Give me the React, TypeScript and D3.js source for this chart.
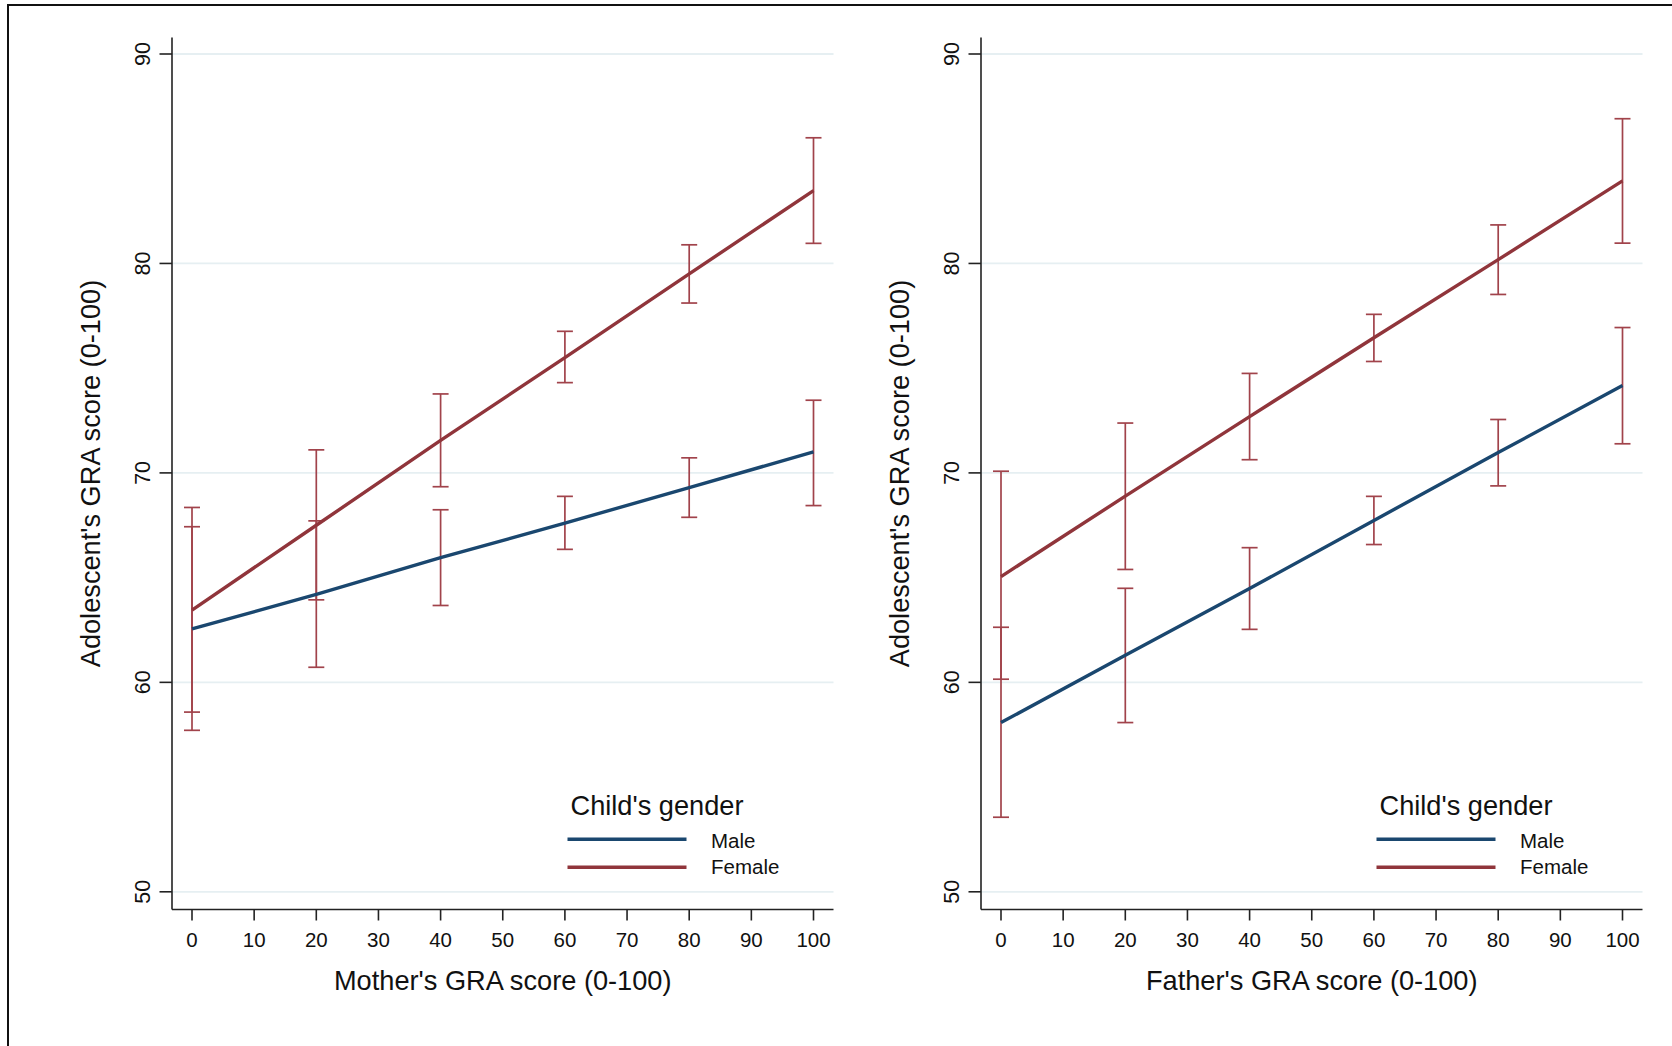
import React from "react";
import * as d3 from "d3";

const xPoints = [0, 20, 40, 60, 80, 100];
const xTicks = [0, 10, 20, 30, 40, 50, 60, 70, 80, 90, 100];
const yTicks = [50, 60, 70, 80, 90];

const motherMale = [62.55, 64.2, 65.95, 67.6, 69.3, 71.0];
const motherMaleLo = [57.71, 60.72, 63.67, 66.35, 67.88, 68.44];
const motherMaleHi = [67.43, 67.71, 68.24, 68.88, 70.72, 73.47];
const motherFemale = [63.45, 67.5, 71.55, 75.5, 79.5, 83.48];
const motherFemaleLo = [58.58, 63.94, 69.34, 74.31, 78.11, 80.96];
const motherFemaleHi = [68.35, 71.1, 73.77, 76.76, 80.89, 86.0];

const fatherMale = [58.08, 61.29, 64.48, 67.73, 70.97, 74.17];
const fatherMaleLo = [53.56, 58.08, 62.53, 66.58, 69.38, 71.39];
const fatherMaleHi = [62.63, 64.49, 66.43, 68.88, 72.55, 76.94];
const fatherFemale = [65.05, 68.89, 72.69, 76.45, 80.18, 83.94];
const fatherFemaleLo = [60.15, 65.39, 70.63, 75.32, 78.52, 80.97];
const fatherFemaleHi = [70.08, 72.38, 74.75, 77.57, 81.84, 86.91];

const legendTitle = "Child's gender";
const seriesNames = ["Male", "Female"];
const yTitle = "Adolescent's GRA score (0-100)";

const MALE = "#1a476f";
const FEMALE = "#90353b";
const CI = "#a1434b";
const GRID = "#e6eff2";
const AXIS = "#222";
const FONT = "'Liberation Sans', Arial, Helvetica, sans-serif";
const TITLE_SIZE = 27.2;

type PanelProps = {
  offsetX: number;
  xTitle: string;
  male: number[];
  maleLo: number[];
  maleHi: number[];
  female: number[];
  femaleLo: number[];
  femaleHi: number[];
};

function Panel(p: PanelProps) {
  const ox = p.offsetX;
  const x = d3.scaleLinear().domain([0, 100]).range([192 + ox, 813.5 + ox]);
  const y = d3.scaleLinear().domain([50, 90]).range([891.8, 54]);
  const axisLeft = 172 + ox;
  const axisRight = 833.5 + ox;
  const axisTop = 37.5;
  const axisBottom = 909.5;

  const line = d3
    .line<number>()
    .x((_, i) => x(xPoints[i]))
    .y((d) => y(d));

  const caps = (lo: number[], hi: number[], key: string) =>
    xPoints.map((xv, i) => {
      const cx = x(xv);
      return (
        <g key={key + i} stroke={CI} strokeWidth={1.7} fill="none">
          <line x1={cx} x2={cx} y1={y(lo[i])} y2={y(hi[i])} />
          <line x1={cx - 8} x2={cx + 8} y1={y(lo[i])} y2={y(lo[i])} />
          <line x1={cx - 8} x2={cx + 8} y1={y(hi[i])} y2={y(hi[i])} />
        </g>
      );
    });

  const legX = 567.5 + ox;
  return (
    <g>
      {yTicks.map((t) => (
        <line
          key={"g" + t}
          x1={axisLeft}
          x2={axisRight}
          y1={y(t)}
          y2={y(t)}
          stroke={GRID}
          strokeWidth={1.8}
        />
      ))}
      {caps(p.maleLo, p.maleHi, "m")}
      {caps(p.femaleLo, p.femaleHi, "f")}
      <path d={line(p.male) || ""} stroke={MALE} strokeWidth={3.4} fill="none" />
      <path d={line(p.female) || ""} stroke={FEMALE} strokeWidth={3.4} fill="none" />

      <line x1={axisLeft} x2={axisLeft} y1={axisTop} y2={axisBottom} stroke={AXIS} strokeWidth={1.6} />
      <line x1={axisLeft} x2={axisRight} y1={axisBottom} y2={axisBottom} stroke={AXIS} strokeWidth={1.6} />
      {yTicks.map((t) => (
        <g key={"yt" + t}>
          <line x1={axisLeft - 12.5} x2={axisLeft} y1={y(t)} y2={y(t)} stroke={AXIS} strokeWidth={1.6} />
          <text
            transform={`translate(${150 + ox},${y(t)}) rotate(-90)`}
            textAnchor="middle"
            fontSize={21.5}
            fontFamily={FONT}
            fill="#111"
          >
            {t}
          </text>
        </g>
      ))}
      {xTicks.map((t) => (
        <g key={"xt" + t}>
          <line x1={x(t)} x2={x(t)} y1={axisBottom} y2={axisBottom + 11} stroke={AXIS} strokeWidth={1.6} />
          <text x={x(t)} y={946.5} textAnchor="middle" fontSize={20.5} fontFamily={FONT} fill="#111">
            {t}
          </text>
        </g>
      ))}
      <text
        transform={`translate(${99.5 + ox},${(axisTop + axisBottom) / 2}) rotate(-90)`}
        textAnchor="middle"
        fontSize={TITLE_SIZE}
        fontFamily={FONT}
        fill="#111"
      >
        {yTitle}
      </text>
      <text
        x={(axisLeft + axisRight) / 2}
        y={990}
        textAnchor="middle"
        fontSize={TITLE_SIZE}
        fontFamily={FONT}
        fill="#111"
      >
        {p.xTitle}
      </text>

      <text x={legX + 3} y={814.5} fontSize={TITLE_SIZE} fontFamily={FONT} fill="#111">
        {legendTitle}
      </text>
      <line x1={legX} x2={legX + 119} y1={839.3} y2={839.3} stroke={MALE} strokeWidth={3.6} />
      <line x1={legX} x2={legX + 119} y1={867.3} y2={867.3} stroke={FEMALE} strokeWidth={3.6} />
      <text x={legX + 143.5} y={847.7} fontSize={20.5} fontFamily={FONT} fill="#111">
        {seriesNames[0]}
      </text>
      <text x={legX + 143.5} y={874.4} fontSize={20.5} fontFamily={FONT} fill="#111">
        {seriesNames[1]}
      </text>
    </g>
  );
}

export default function App() {
  return (
    <svg
      width={1672}
      height={1046}
      style={{ position: "absolute", left: 0, top: 0, background: "#fff" }}
    >
      <rect x={0} y={0} width={1672} height={1046} fill="#fff" />
      <line x1={7} x2={1672} y1={5} y2={5} stroke="#111" strokeWidth={2} />
      <line x1={8} x2={8} y1={4} y2={1046} stroke="#111" strokeWidth={2} />
      <Panel
        offsetX={0}
        xTitle="Mother's GRA score (0-100)"
        male={motherMale}
        maleLo={motherMaleLo}
        maleHi={motherMaleHi}
        female={motherFemale}
        femaleLo={motherFemaleLo}
        femaleHi={motherFemaleHi}
      />
      <Panel
        offsetX={809}
        xTitle="Father's GRA score (0-100)"
        male={fatherMale}
        maleLo={fatherMaleLo}
        maleHi={fatherMaleHi}
        female={fatherFemale}
        femaleLo={fatherFemaleLo}
        femaleHi={fatherFemaleHi}
      />
    </svg>
  );
}
